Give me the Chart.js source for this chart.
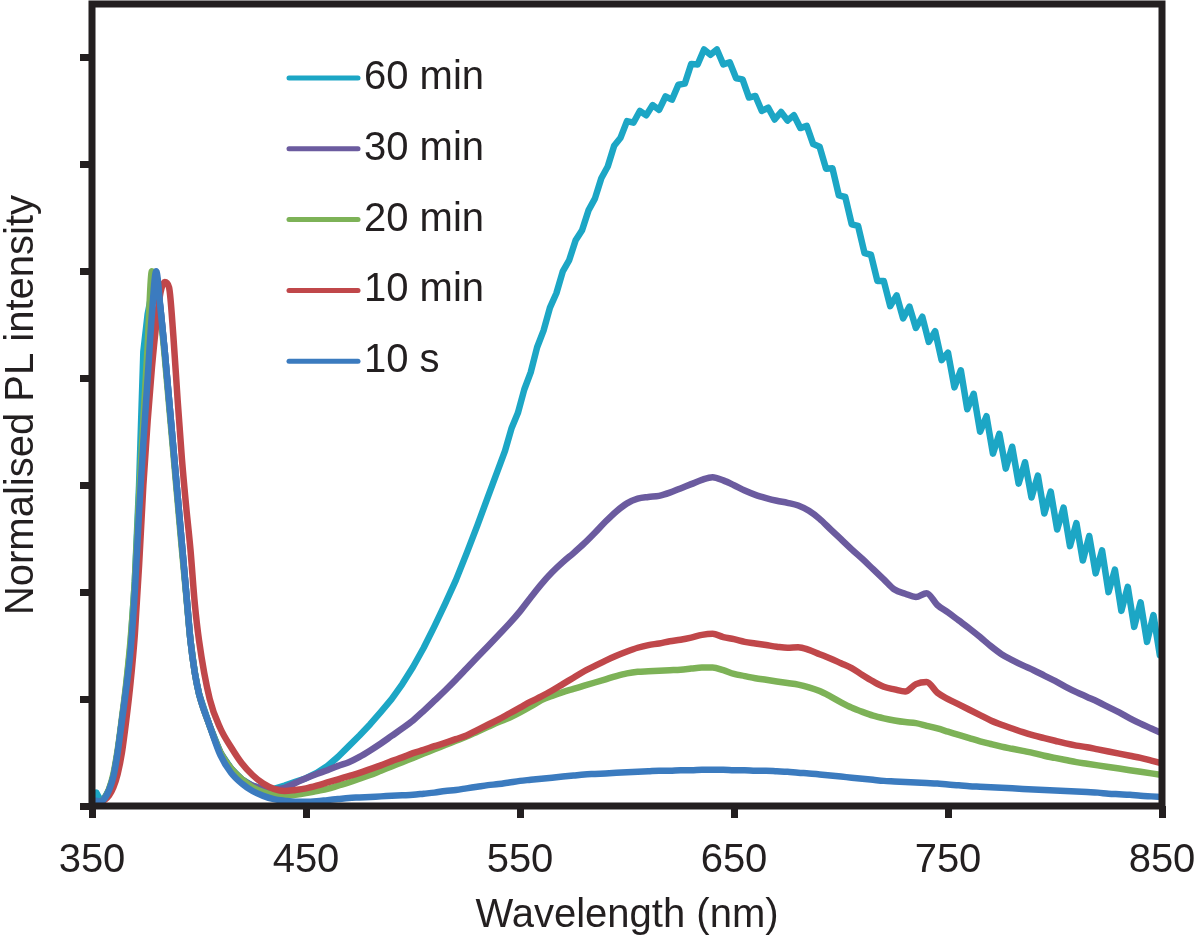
<!DOCTYPE html>
<html>
<head>
<meta charset="utf-8">
<script src="https://cdn.jsdelivr.net/npm/chart.js@4/dist/chart.umd.min.js"></script>
<style>
  html, body { margin: 0; padding: 0; background: #fff; }
  #wrap { width: 1200px; height: 943px; }
</style>
</head>
<body>
<div id="wrap"><canvas id="Chart" width="1200" height="943"></canvas></div>
<script>
// shared wavelength grid (nm) for the smoother spectra
const wavelength = [
    350, 352, 354, 356, 358, 360, 362, 364, 366, 368, 370, 372, 374, 376, 378, 380, 382, 384, 386, 388,
    390, 392, 394, 396, 398, 400,
    405, 410, 415, 420, 425, 430, 435, 440, 445,
    450, 455, 460, 465, 470, 475, 480, 485, 490, 495,
    500, 505, 510, 515, 520, 525, 530, 535, 540, 545,
    550, 555, 560, 565, 570, 575, 580, 585, 590, 595,
    600, 605, 610, 615, 620, 625, 630, 635, 640, 645,
    650, 655, 660, 665, 670, 675, 680, 685, 690, 695,
    700, 705, 710, 715, 720, 725, 730, 735, 740, 745,
    750, 755, 760, 765, 770, 775, 780, 785, 790, 795,
    800, 805, 810, 815, 820, 825, 830, 835, 840, 845,
    850
];

const pl10s = [
    0.004, 0.010, 0.008, 0.015, 0.030, 0.055, 0.100, 0.160, 0.220, 0.290, 0.400, 0.550, 0.680, 0.800, 0.920, 1.000, 0.930, 0.850, 0.760, 0.670,
    0.580, 0.490, 0.400, 0.310, 0.250, 0.210,
    0.150, 0.095, 0.062, 0.042, 0.028, 0.019, 0.013, 0.010, 0.008,
    0.008, 0.009, 0.011, 0.013, 0.015, 0.016, 0.017, 0.018, 0.019, 0.020,
    0.021, 0.023, 0.025, 0.028, 0.030, 0.033, 0.036, 0.039, 0.041, 0.044,
    0.047, 0.049, 0.051, 0.053, 0.055, 0.057, 0.059, 0.060, 0.061, 0.062,
    0.063, 0.064, 0.065, 0.066, 0.066, 0.067, 0.067, 0.068, 0.068, 0.068,
    0.067, 0.067, 0.066, 0.066, 0.065, 0.064, 0.062, 0.061, 0.059, 0.057,
    0.055, 0.053, 0.051, 0.049, 0.047, 0.046, 0.045, 0.044, 0.043, 0.042,
    0.040, 0.039, 0.037, 0.036, 0.035, 0.034, 0.033, 0.032, 0.031, 0.030,
    0.029, 0.028, 0.027, 0.026, 0.025, 0.023, 0.022, 0.021, 0.019, 0.018,
    0.017
];

const pl10min = [
    0.004, 0.006, 0.008, 0.012, 0.020, 0.035, 0.060, 0.100, 0.160, 0.230, 0.320, 0.450, 0.600, 0.720, 0.820, 0.900, 0.960, 0.980, 0.970, 0.880,
    0.760, 0.650, 0.560, 0.480, 0.380, 0.310,
    0.200, 0.145, 0.110, 0.080, 0.058, 0.042, 0.032, 0.028, 0.030,
    0.033, 0.038, 0.044, 0.050, 0.056, 0.062, 0.069, 0.076, 0.084, 0.091,
    0.099, 0.105, 0.112, 0.118, 0.125, 0.132, 0.142, 0.152, 0.162, 0.173,
    0.184, 0.195, 0.205, 0.216, 0.228, 0.240, 0.252, 0.262, 0.272, 0.281,
    0.289, 0.296, 0.301, 0.304, 0.308, 0.311, 0.315, 0.320, 0.322, 0.316,
    0.312, 0.307, 0.304, 0.301, 0.298, 0.296, 0.297, 0.292, 0.284, 0.276,
    0.267, 0.258, 0.245, 0.233, 0.223, 0.218, 0.214, 0.228, 0.232, 0.212,
    0.200, 0.190, 0.180, 0.170, 0.160, 0.152, 0.145, 0.138, 0.132, 0.127,
    0.122, 0.117, 0.113, 0.110, 0.106, 0.102, 0.098, 0.094, 0.090, 0.085,
    0.080
];

const pl20min = [
    0.004, 0.008, 0.008, 0.016, 0.032, 0.060, 0.105, 0.165, 0.230, 0.310, 0.420, 0.580, 0.720, 0.860, 1.000, 0.980, 0.920, 0.840, 0.750, 0.660,
    0.570, 0.480, 0.395, 0.310, 0.250, 0.210,
    0.150, 0.100, 0.070, 0.050, 0.035, 0.026, 0.021, 0.019, 0.021,
    0.024, 0.028, 0.032, 0.038, 0.044, 0.051, 0.058, 0.066, 0.074, 0.082,
    0.090, 0.098, 0.106, 0.114, 0.122, 0.130, 0.139, 0.148, 0.157, 0.165,
    0.175, 0.186, 0.198, 0.206, 0.213, 0.219, 0.225, 0.231, 0.237, 0.243,
    0.248, 0.251, 0.252, 0.253, 0.254, 0.255, 0.257, 0.259, 0.259, 0.254,
    0.247, 0.243, 0.239, 0.236, 0.233, 0.230, 0.227, 0.222, 0.215, 0.205,
    0.194, 0.184, 0.176, 0.169, 0.164, 0.160, 0.157, 0.155, 0.150, 0.145,
    0.139, 0.133, 0.127, 0.121, 0.116, 0.111, 0.107, 0.103, 0.099, 0.094,
    0.090, 0.086, 0.082, 0.079, 0.076, 0.073, 0.070, 0.067, 0.064, 0.061,
    0.058
];

const pl30min = [
    0.004, 0.008, 0.008, 0.015, 0.030, 0.055, 0.100, 0.160, 0.220, 0.290, 0.400, 0.560, 0.700, 0.840, 0.950, 0.990, 0.930, 0.850, 0.760, 0.670,
    0.580, 0.490, 0.400, 0.310, 0.250, 0.210,
    0.150, 0.100, 0.070, 0.050, 0.038, 0.032, 0.031, 0.034, 0.043,
    0.052, 0.060, 0.067, 0.075, 0.082, 0.092, 0.104, 0.117, 0.131, 0.145,
    0.160, 0.178, 0.197, 0.216, 0.236, 0.257, 0.278, 0.299, 0.320, 0.341,
    0.364, 0.390, 0.415, 0.437, 0.456, 0.473, 0.491, 0.511, 0.532, 0.551,
    0.566, 0.575, 0.578, 0.580, 0.586, 0.594, 0.602, 0.610, 0.615, 0.609,
    0.600, 0.590, 0.582, 0.576, 0.571, 0.567, 0.562, 0.552, 0.537, 0.518,
    0.499, 0.480, 0.462, 0.443, 0.424, 0.405, 0.397, 0.391, 0.398, 0.376,
    0.362, 0.347, 0.332, 0.316, 0.299, 0.284, 0.273, 0.263, 0.254, 0.244,
    0.234, 0.223, 0.213, 0.204, 0.195, 0.185, 0.175, 0.164, 0.154, 0.145,
    0.136
];

// the 60 min spectrum is noisy, so it has its own denser grid above 540 nm
const wavelength60 = [
    350, 352, 354, 356, 358, 360, 362, 364, 366, 368, 370, 372, 374, 376, 378, 380, 382, 384, 386, 388,
    390, 392, 394, 396, 398, 400,
    405, 410, 415, 420, 425, 430, 435, 440, 445, 450, 455, 460, 465, 470,
    475, 480, 485, 490, 495, 500, 505, 510, 515, 520, 525, 530, 535, 540,
    543, 546, 549, 552, 555, 558, 561, 564, 567, 570,
    573, 576, 579, 582, 585, 588, 591, 594, 597, 600,
    603, 606, 609, 612, 615, 618, 621, 624, 627, 630,
    633, 636, 639, 642, 645, 648, 651, 654, 657, 660,
    663, 666, 669, 672, 675, 678, 681, 684, 687, 690,
    693, 696, 699, 702, 705, 708, 711, 714, 717, 720,
    723, 726, 729, 732, 735, 738, 741, 744, 747, 750,
    753, 756, 759, 762, 765, 768, 771, 774, 777, 780,
    783, 786, 789, 792, 795, 798, 801, 804, 807, 810,
    813, 816, 819, 822, 825, 828, 831, 834, 837, 840,
    843, 846, 849, 850
];

const pl60min = [
    0.012, 0.025, 0.010, 0.016, 0.030, 0.055, 0.100, 0.160, 0.225, 0.300, 0.420, 0.600, 0.850, 0.920, 0.960, 0.990, 0.930, 0.850, 0.760, 0.670,
    0.580, 0.490, 0.400, 0.310, 0.250, 0.210,
    0.150, 0.100, 0.070, 0.050, 0.038, 0.032, 0.032, 0.038, 0.045, 0.052, 0.062, 0.075, 0.092, 0.112,
    0.132, 0.153, 0.176, 0.200, 0.228, 0.260, 0.296, 0.336, 0.378, 0.422, 0.472, 0.524, 0.578, 0.632,
    0.664, 0.706, 0.735, 0.779, 0.811, 0.858, 0.889, 0.932, 0.959, 1.000,
    1.021, 1.058, 1.077, 1.114, 1.136, 1.174, 1.196, 1.235, 1.250, 1.281,
    1.278, 1.300, 1.292, 1.311, 1.302, 1.327, 1.321, 1.349, 1.351, 1.388,
    1.387, 1.415, 1.405, 1.415, 1.387, 1.391, 1.361, 1.359, 1.325, 1.328,
    1.300, 1.306, 1.284, 1.298, 1.282, 1.292, 1.268, 1.272, 1.238, 1.233,
    1.192, 1.193, 1.142, 1.139, 1.088, 1.085, 1.034, 1.031, 0.982, 0.982,
    0.935, 0.955, 0.912, 0.934, 0.894, 0.915, 0.868, 0.888, 0.834, 0.848,
    0.783, 0.815, 0.742, 0.771, 0.700, 0.729, 0.659, 0.696, 0.631, 0.672,
    0.603, 0.643, 0.577, 0.618, 0.547, 0.588, 0.517, 0.558, 0.486, 0.529,
    0.459, 0.505, 0.435, 0.478, 0.400, 0.442, 0.365, 0.410, 0.335, 0.381,
    0.307, 0.357, 0.282, 0.310
];

const xTickValues = [350, 450, 550, 650, 750, 850];
const legendOrder = ["60 min", "30 min", "20 min", "10 min", "10 s"];

const INK = '#231f20';
const FONT = "'Liberation Sans', Arial, Helvetica, sans-serif";

function toPoints(xs, ys) {
    return xs.map((x, i) => ({ x: x, y: ys[i] }));
}

function line(label, xs, ys, color, jagged) {
    return {
        label: label,
        data: toPoints(xs, ys),
        borderColor: color,
        backgroundColor: color,
        borderWidth: 6.5,
        pointRadius: 0,
        tension: jagged ? 0 : 0.4,
        cubicInterpolationMode: jagged ? 'default' : 'monotone',
        borderJoinStyle: 'round',
        borderCapStyle: 'round',
        fill: false
    };
}

// index 0 is painted last, so 10 s sits on top as in the figure
const datasets = [
    line("10 s", wavelength, pl10s, '#3b7bbf'),
    line("10 min", wavelength, pl10min, '#c0474a'),
    line("20 min", wavelength, pl20min, '#7db257'),
    line("30 min", wavelength, pl30min, '#6b5b9f'),
    line("60 min", wavelength60, pl60min, '#1ca6c5', true)
];

const framePlugin = {
    id: 'frame',
    afterDatasetsDraw(chart) {
        const { ctx, chartArea: a } = chart;
        ctx.save();
        ctx.strokeStyle = INK;
        ctx.lineWidth = 7;
        ctx.lineJoin = 'miter';
        ctx.strokeRect(a.left, a.top, a.right - a.left, a.bottom - a.top);
        ctx.restore();
    }
};

const legendPlugin = {
    id: 'insideLegend',
    afterDraw(chart) {
        const ctx = chart.ctx;
        ctx.save();
        ctx.font = '40px ' + FONT;
        ctx.textBaseline = 'middle';
        ctx.textAlign = 'left';
        legendOrder.forEach((name, i) => {
            const ds = chart.data.datasets.find(d => d.label === name);
            const y = 78 + i * 70.8;
            ctx.strokeStyle = ds.borderColor;
            ctx.lineWidth = 5;
            ctx.lineCap = 'round';
            ctx.beginPath();
            ctx.moveTo(289, y);
            ctx.lineTo(358, y);
            ctx.stroke();
            ctx.fillStyle = INK;
            ctx.fillText(name, 364, y);
        });
        ctx.restore();
    }
};

const ctx = document.getElementById('Chart').getContext('2d');
const chart = new Chart(ctx, {
    type: 'line',
    data: { datasets: datasets },
    plugins: [framePlugin, legendPlugin],
    options: {
        responsive: false,
        animation: false,
        devicePixelRatio: 1,
        layout: { padding: { top: 4, right: 38, left: 0, bottom: 0 } },
        plugins: {
            legend: { display: false },
            tooltip: { enabled: false }
        },
        scales: {
            x: {
                type: 'linear',
                min: 350,
                max: 850,
                afterBuildTicks(scale) {
                    scale.ticks = xTickValues.map(v => ({ value: v }));
                },
                afterFit(scale) {
                    scale.height = 137;
                    scale.paddingLeft = 0;
                    scale.paddingRight = 0;
                },
                border: { display: false },
                grid: {
                    drawOnChartArea: false,
                    drawTicks: true,
                    tickLength: 12,
                    tickWidth: 7,
                    tickColor: INK
                },
                ticks: {
                    padding: 19,
                    color: INK,
                    font: { family: FONT, size: 40 },
                    maxRotation: 0
                },
                title: {
                    display: true,
                    text: 'Wavelength (nm)',
                    color: INK,
                    font: { family: FONT, size: 40, lineHeight: 1.1 },
                    padding: { top: 0, bottom: 5 }
                }
            },
            y: {
                min: 0,
                max: 1.5,
                afterFit(scale) {
                    scale.width = 92;
                    scale.paddingTop = 0;
                    scale.paddingBottom = 0;
                },
                border: { display: false },
                grid: {
                    drawOnChartArea: false,
                    drawTicks: true,
                    tickLength: 12,
                    tickWidth: 7,
                    tickColor: INK
                },
                ticks: {
                    display: false,
                    stepSize: 0.2,
                    includeBounds: false
                },
                title: {
                    display: true,
                    text: 'Normalised PL intensity',
                    color: INK,
                    font: { family: FONT, size: 40, lineHeight: 1.1 },
                    padding: { top: 0, bottom: 0 }
                }
            }
        }
    }
});
</script>
</body>
</html>
